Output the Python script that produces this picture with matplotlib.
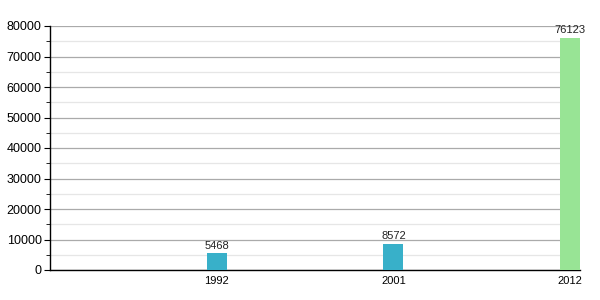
import matplotlib.pyplot as plt
from matplotlib.ticker import MultipleLocator

years = ["1992", "2001", "2012"]
values = [5468, 8572, 76123]
colors = ["#38b0c9", "#38b0c9", "#98e495"]

plt.rcParams['font.family'] = ['Liberation Sans', 'DejaVu Sans']

fig = plt.figure(figsize=(6, 3), dpi=100)
ax = fig.add_axes([50 / 600, 30 / 300, 530 / 600, 244 / 300])

x = list(range(len(years)))
bars = ax.bar(x, values, width=0.113, color=colors, zorder=3)
for b, v in zip(bars, values):
    ax.text(b.get_x() + b.get_width() / 2, v + 900, str(v), ha='center', va='bottom',
            fontsize=8, color='#222222', zorder=4)

ax.set_xlim(-0.946, 2.057)
ax.set_ylim(0, 80000)
ax.set_xticks(x)
ax.set_xticklabels(years)
ax.yaxis.set_major_locator(MultipleLocator(10000))
ax.yaxis.set_minor_locator(MultipleLocator(5000))
ax.grid(axis='y', which='major', color='#aaaaaa', linewidth=0.9, zorder=0)
ax.grid(axis='y', which='minor', color='#e6e6e6', linewidth=0.9, zorder=0)
ax.tick_params(axis='x', length=0, labelsize=8, pad=4)
ax.tick_params(axis='y', which='major', length=4, labelsize=9, pad=2)
ax.tick_params(axis='y', which='minor', length=3)
for s in ['top', 'right']:
    ax.spines[s].set_visible(False)
ax.spines['left'].set_linewidth(1)
ax.spines['bottom'].set_linewidth(1)

fig.savefig('out.png', dpi=100)
